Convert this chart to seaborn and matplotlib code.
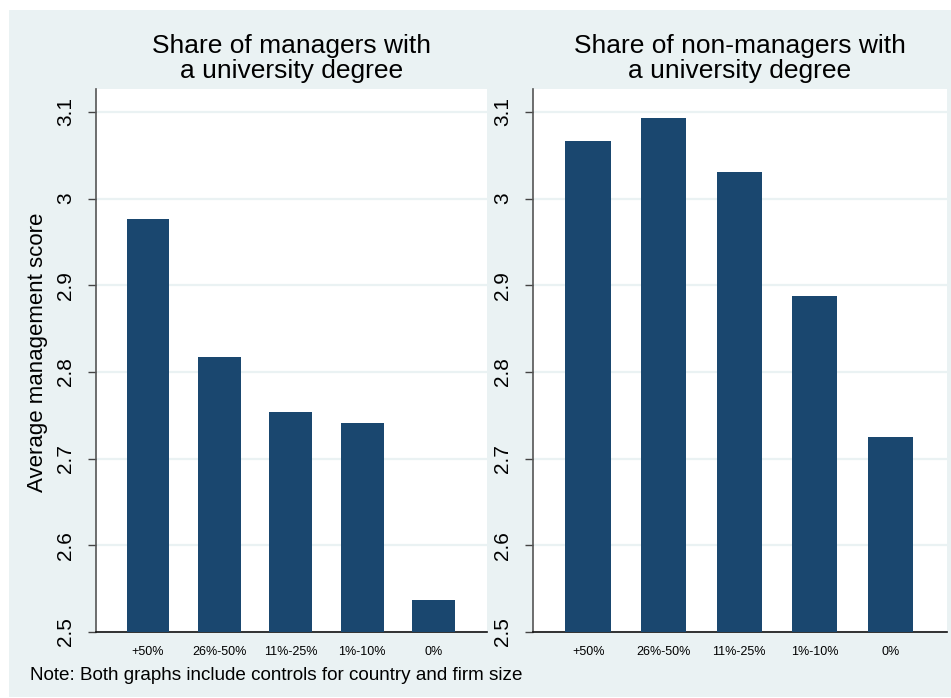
import matplotlib
matplotlib.use("Agg")
import matplotlib.pyplot as plt
import matplotlib.patches as mpatches
import pandas as pd
import seaborn as sns

# categories and bar heights
shares = ["+50%", "26%-50%", "11%-25%", "1%-10%", "0%"]
managers_score = [2.977, 2.817, 2.754, 2.741, 2.537]
non_managers_score = [3.067, 3.093, 3.031, 2.888, 2.725]

panel_titles = ["Share of managers with\na university degree",
                "Share of non-managers with\na university degree"]
y_ticks = [2.5, 2.6, 2.7, 2.8, 2.9, 3.0, 3.1]
y_tick_labels = ["2.5", "2.6", "2.7", "2.8", "2.9", "3", "3.1"]

bar_color = "#1A476F"
bg_color = "#EAF2F3"

sns.set_style("white")
plt.rcParams["font.family"] = ["Liberation Sans", "DejaVu Sans"]
plt.rcParams["text.color"] = "black"
plt.rcParams["xtick.color"] = "black"
plt.rcParams["ytick.color"] = "black"

fig = plt.figure(figsize=(9.51, 6.98), dpi=100, facecolor="white")
# Stata-like outer panel
fig.patches.append(mpatches.Rectangle((9 / 951, 1 / 698), 1 - 9 / 951, 1 - 11 / 698,
                                      transform=fig.transFigure, facecolor=bg_color,
                                      edgecolor="none", zorder=-10))

ax_left = fig.add_axes([96 / 951, 66 / 698, 391 / 951, 543 / 698])
ax_right = fig.add_axes([533 / 951, 66 / 698, 414 / 951, 543 / 698])

frames = [
    pd.DataFrame({"share": shares, "score": managers_score}),
    pd.DataFrame({"share": shares, "score": non_managers_score}),
]

for ax, df, title in zip([ax_left, ax_right], frames, panel_titles):
    ax.set_facecolor("white")
    ax.set_axisbelow(True)
    sns.barplot(data=df, x="share", y="score", color=bar_color, width=0.6,
                saturation=1, linewidth=0, ax=ax, zorder=3)
    ax.set_ylim(2.5, 3.1265)
    ax.set_xlim(-0.73, 4.75)
    ax.set_yticks(y_ticks)
    ax.set_yticklabels(y_tick_labels, rotation=90, va="center", fontsize=15)
    ax.yaxis.grid(True, color=bg_color, linewidth=1.6)
    ax.xaxis.grid(False)
    ax.tick_params(axis="y", length=6, width=1, color="#444444", labelcolor="black",
                   pad=9, left=True)
    ax.tick_params(axis="x", length=0, pad=10, labelsize=9, labelcolor="black")
    ax.set_xlabel("")
    ax.set_ylabel("")
    for side in ["top", "right"]:
        ax.spines[side].set_visible(False)
    ax.spines["left"].set_color("#555555")
    ax.spines["left"].set_linewidth(1.2)
    ax.spines["bottom"].set_color("#111111")
    ax.spines["bottom"].set_linewidth(1.2)
    ax.set_title(title, fontsize=19, pad=8, linespacing=1.05, color="black")

fig.text(38 / 951, 1 - 352 / 698, "Average management score", rotation=90,
         ha="center", va="center", fontsize=16, color="black")
fig.text(30 / 951, 18 / 698, "Note: Both graphs include controls for country and firm size",
         ha="left", va="baseline", fontsize=13.6, color="black")

fig.savefig("out.png", dpi=100, facecolor="white")
